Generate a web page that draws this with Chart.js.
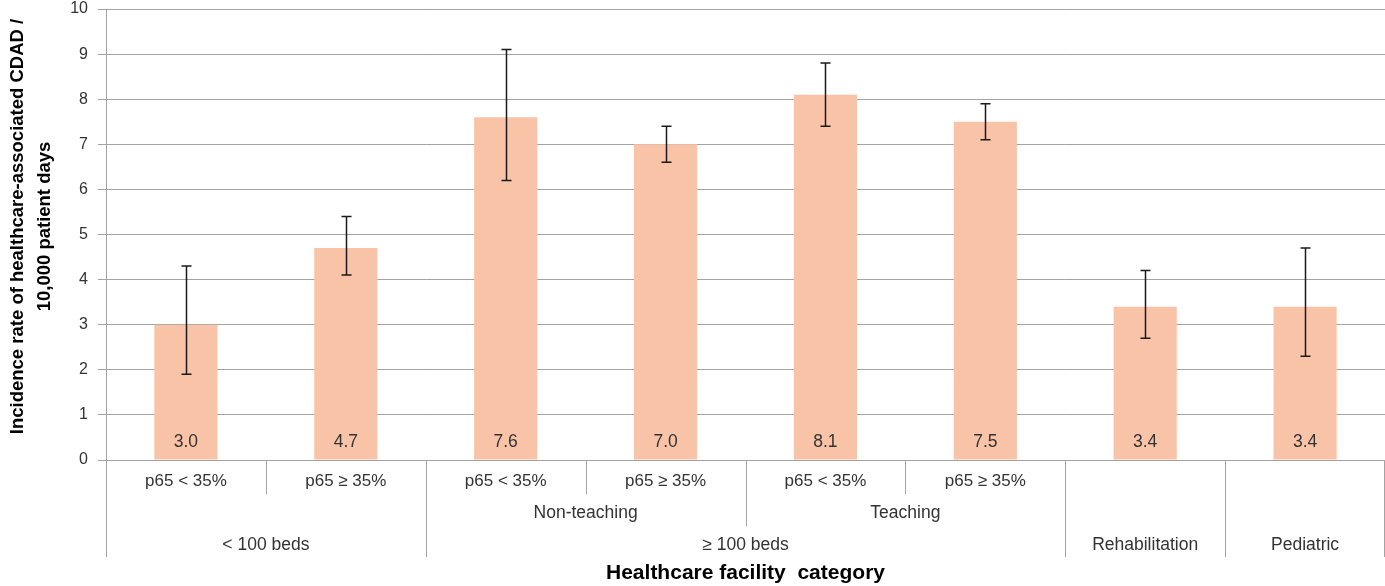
<!DOCTYPE html>
<html><head><meta charset="utf-8">
<script src="https://cdn.jsdelivr.net/npm/chart.js@4"></script>
<style>html,body{margin:0;padding:0;background:#fff}#wrap{width:1385px;height:586px}</style>
</head><body><div id="wrap"><canvas id="c" width="1385" height="586"></canvas></div>
<script>
const subLabels = ['p65 < 35%','p65 \u2265 35%','p65 < 35%','p65 \u2265 35%','p65 < 35%','p65 \u2265 35%','',''];
const values = [3.0, 4.7, 7.6, 7.0, 8.1, 7.5, 3.4, 3.4];
const lower = [1.9, 4.1, 6.2, 6.6, 7.4, 7.1, 2.7, 2.3];
const upper = [4.3, 5.4, 9.1, 7.4, 8.8, 7.9, 4.2, 4.7];
const midGroups = [{label:'Non-teaching', from:2, to:3}, {label:'Teaching', from:4, to:5}];
const topGroups = [{label:'< 100 beds', from:0, to:1}, {label:'\u2265 100 beds', from:2, to:5}, {label:'Rehabilitation', from:6, to:6}, {label:'Pediatric', from:7, to:7}];
const yTitle = ['Incidence rate of healthcare-associated CDAD /', '10,000 patient days'];
const xTitle = 'Healthcare facility  category';

const FONT = '"Liberation Sans", Arial, sans-serif';
const TXT = '#333333';
const LINE = '#a3a3a3';

const overlay = {
  id:'overlay',
  afterDatasetsDraw(chart){
    const ctx = chart.ctx, x = chart.scales.x, y = chart.scales.y;
    const meta = chart.getDatasetMeta(0);
    ctx.save();
    // error bars
    ctx.strokeStyle = '#1a1a1a'; ctx.lineWidth = 1.5;
    meta.data.forEach((bar,i)=>{
      const cx = Math.round(bar.x)+0.5;
      const yl = y.getPixelForValue(lower[i]), yu = y.getPixelForValue(upper[i]);
      ctx.beginPath();
      ctx.moveTo(cx, yl); ctx.lineTo(cx, yu);
      ctx.moveTo(cx-5, yu); ctx.lineTo(cx+5, yu);
      ctx.moveTo(cx-5, yl); ctx.lineTo(cx+5, yl);
      ctx.stroke();
    });
    // value labels
    ctx.fillStyle = TXT; ctx.font = '17.5px '+FONT; ctx.textAlign='center'; ctx.textBaseline='middle';
    meta.data.forEach((bar,i)=>{
      ctx.fillText(values[i].toFixed(1), bar.x, y.getPixelForValue(0)-18);
    });
    // category axis
    const n = values.length;
    const bnd = k => k===0 ? x.left : (k===n ? x.right : (x.getPixelForValue(k-1)+x.getPixelForValue(k))/2);
    const base = y.getPixelForValue(0);
    const r1 = base+34, r2 = base+66, r3 = base+97;
    const depth = new Array(n+1).fill(r1);
    midGroups.forEach(g=>{ depth[g.from]=Math.max(depth[g.from],r2); depth[g.to+1]=Math.max(depth[g.to+1],r2); });
    topGroups.forEach(g=>{ depth[g.from]=r3; depth[g.to+1]=r3; });
    ctx.strokeStyle = LINE; ctx.lineWidth = 1;
    for(let k=0;k<=n;k++){
      const px = Math.round(bnd(k)) - (k===n?0.5:-0.5);
      ctx.beginPath(); ctx.moveTo(px, base); ctx.lineTo(px, depth[k]); ctx.stroke();
    }
    ctx.fillStyle = TXT; ctx.font = '17px '+FONT;
    subLabels.forEach((s,i)=>{ if(s) ctx.fillText(s, x.getPixelForValue(i), base+21); });
    ctx.font = '17.5px '+FONT;
    midGroups.forEach(g=>{ ctx.fillText(g.label, (bnd(g.from)+bnd(g.to+1))/2, base+53); });
    topGroups.forEach(g=>{ ctx.fillText(g.label, (bnd(g.from)+bnd(g.to+1))/2, base+85); });
    // titles
    ctx.fillStyle = '#000'; ctx.font = 'bold 21px '+FONT;
    ctx.fillText(xTitle, (x.left+x.right)/2, 573);
    ctx.save();
    ctx.font = 'bold 18.5px '+FONT;
    ctx.translate(18, (y.top+y.bottom)/2 - 8);
    ctx.rotate(-Math.PI/2);
    ctx.fillText(yTitle[0], 0, 0);
    ctx.fillText(yTitle[1], 0, 27);
    ctx.restore();
    ctx.restore();
  }
};

new Chart(document.getElementById('c'), {
  type:'bar',
  data:{ labels: subLabels.map((s,i)=>s||('c'+i)), datasets:[{ data: values, backgroundColor:'#f9c3a7', borderWidth:0, barPercentage:0.395, categoryPercentage:1 }]},
  options:{
    responsive:false, animation:false,
    layout:{ padding:{ top:9, right:0, left:0, bottom:0 } },
    plugins:{ legend:{display:false}, tooltip:{enabled:false} },
    scales:{
      x:{ grid:{display:false}, border:{display:false}, ticks:{display:false},
          afterFit(s){ s.height = 126; } },
      y:{ min:0, max:10, ticks:{ stepSize:1, color:TXT, font:{family:FONT, size:16}, padding:10 },
          grid:{ color:LINE, tickLength:8, lineWidth:1 },
          border:{ display:true, color:LINE },
          afterFit(s){ s.width = 106; s.paddingTop = 0; s.paddingBottom = 0; } }
    }
  },
  plugins:[overlay]
});
</script></body></html>
